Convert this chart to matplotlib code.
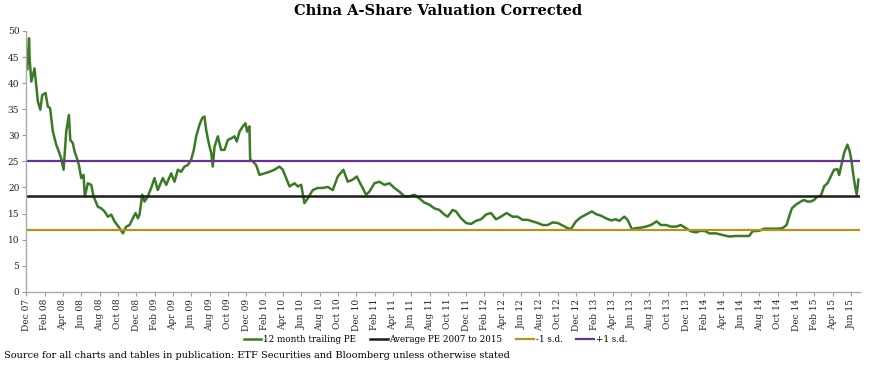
import matplotlib
matplotlib.use("Agg")
import matplotlib.pyplot as plt

# months since Dec 2007 and 12m trailing PE
months = [0.0, 0.1, 0.3, 0.36, 0.55, 0.9, 1.01, 1.26, 1.53, 1.74, 2.1, 2.35, 2.6, 2.9,
          3.27, 3.55, 3.8, 4.07, 4.36, 4.65, 4.8, 5.08, 5.27, 5.52, 5.74, 6.0, 6.25, 6.39,
          6.72, 7.09, 7.34, 7.81, 8.18, 8.54, 8.9, 9.27, 9.63, 10.18, 10.54, 10.9, 11.27,
          11.63, 11.93, 12.18, 12.36, 12.65, 12.9, 13.26, 13.63, 13.99, 14.35, 14.9, 15.27,
          15.81, 16.17, 16.54, 16.9, 17.26, 17.62, 17.99, 18.28, 18.54, 18.9, 19.2, 19.44,
          19.63, 19.91, 20.18, 20.35, 20.54, 20.9, 21.26, 21.63, 21.99, 22.36, 22.72, 22.97,
          23.27, 23.63, 23.92, 24.1, 24.35, 24.43, 24.72, 25.08, 25.45, 25.99, 26.54, 27.08,
          27.63, 27.99, 28.36, 28.72, 29.27, 29.63, 30.0, 30.35, 30.71, 31.26, 31.8, 32.35,
          32.9, 33.44, 33.99, 34.6, 35.08, 35.62, 36.06, 36.53, 37.08, 37.44, 37.99, 38.53,
          39.08, 39.62, 40.17, 40.71, 41.26, 41.8, 42.35, 42.89, 43.44, 43.98, 44.53, 45.07,
          45.62, 45.98, 46.53, 46.89, 47.44, 47.98, 48.53, 49.07, 49.62, 50.16, 50.71, 51.25,
          51.8, 52.41, 53.07, 53.61, 54.16, 54.7, 55.25, 55.8, 56.34, 56.89, 57.43, 57.98,
          58.52, 59.07, 59.43, 59.98, 60.53, 61.07, 61.72, 62.16, 62.7, 63.25, 63.79, 64.34,
          64.7, 65.25, 65.61, 66.09, 66.53, 67.07, 67.62, 68.16, 68.77, 69.25, 69.8, 70.34,
          70.89, 71.43, 71.98, 72.52, 73.07, 73.61, 74.16, 74.51, 75.24, 75.97, 76.7, 77.43,
          78.16, 78.88, 79.25, 79.98, 80.53, 81.25, 81.98, 82.52, 82.96, 83.24, 83.54, 83.97,
          84.52, 84.88, 85.24, 85.6, 85.97, 86.33, 86.7, 87.06, 87.42, 87.79, 88.15, 88.51,
          88.7, 88.99, 89.24, 89.6, 89.86, 90.08, 90.22, 90.44, 90.62, 90.8]
pe = [43.5, 42.6, 48.6, 44.8, 40.3, 42.8, 40.9, 36.5, 34.9, 37.7, 38.1, 35.5, 35.2, 30.7,
      28.2, 26.9, 25.6, 23.4, 30.7, 33.9, 29.1, 28.5, 26.9, 25.6, 24.3, 21.8, 22.4, 18.3,
      20.8, 20.5, 18.3, 16.3, 16.0, 15.4, 14.4, 14.8, 13.5, 12.2, 11.2, 12.5, 12.8,
      14.1, 15.1, 14.1, 14.8, 18.6, 17.3, 18.3, 19.9, 21.8, 19.5, 21.8, 20.5,
      22.7, 21.1, 23.4, 23.0, 24.0, 24.3, 25.3, 27.2, 29.8, 32.0, 33.3, 33.6,
      31.0, 28.5, 26.6, 24.0, 27.8, 29.8, 27.2, 27.2, 29.1, 29.4, 29.8, 28.8,
      30.7, 31.7, 32.3, 30.7, 31.7, 25.3, 25.0, 24.3, 22.4, 22.7, 23.0, 23.4,
      24.0, 23.4, 21.8, 20.2, 20.8, 20.2, 20.5, 17.0, 17.9, 19.5, 19.9, 19.9,
      20.1, 19.5, 22.1, 23.4, 21.1, 21.5, 22.1, 20.5, 18.6, 19.2, 20.8, 21.1,
      20.5, 20.8, 19.9, 19.2, 18.3, 18.3, 18.6, 17.9, 17.1, 16.7, 16.0, 15.7,
      14.8, 14.4, 15.7, 15.4, 14.1, 13.2, 13.0, 13.6, 13.9, 14.8, 15.1, 13.9,
      14.4, 15.1, 14.4, 14.4, 13.8, 13.8, 13.5, 13.2, 12.8, 12.8, 13.3, 13.2,
      12.7, 12.2, 12.0, 13.5, 14.3, 14.8, 15.4, 14.9, 14.6, 14.1, 13.7, 13.9,
      13.6, 14.4, 13.8, 12.0, 12.2, 12.3, 12.5, 12.8, 13.5, 12.8, 12.8, 12.5,
      12.5, 12.8, 12.2, 11.6, 11.4, 11.7, 11.6, 11.2, 11.2, 10.9, 10.6, 10.7,
      10.7, 10.7, 11.6, 11.7, 12.1, 12.1, 12.1, 12.2, 12.8, 14.4, 16.0, 16.7,
      17.3, 17.6, 17.3, 17.3, 17.6, 18.3, 18.4, 20.2, 20.8, 22.1, 23.4, 23.5,
      22.4, 24.7, 26.6, 28.2, 26.9, 24.7, 22.7, 20.2, 18.6, 21.5]

avg_pe = 18.4
minus_sd = 11.8
plus_sd = 25.0

month_names = ["Dec", "Feb", "Apr", "Jun", "Aug", "Oct"]
tick_months = list(range(0, 91, 2))
tick_labels = []
for i, m in enumerate(tick_months):
    year = 7 + (m + 11) // 12
    tick_labels.append("%s %02d" % (month_names[i % 6], year))

SERIF = ["DejaVu Serif"]
GREEN = "#3a7a25"
BLACK = "#1c1c1c"
GOLD = "#b3951d"
PURPLE = "#6c2f95"

fig = plt.figure(figsize=(8.76, 3.68), dpi=100)
ax = fig.add_axes([0.030, 0.207, 0.952, 0.709])

ax.plot(months, pe, color=GREEN, lw=1.8, label="12 month trailing PE")
ax.axhline(avg_pe, color=BLACK, lw=1.8, label="Average PE 2007 to 2015")
ax.axhline(minus_sd, color=GOLD, lw=1.6, label="-1 s.d.")
ax.axhline(plus_sd, color=PURPLE, lw=1.6, label="+1 s.d.")

ax.set_xlim(0, 91)
ax.set_ylim(0, 50)
ax.set_yticks(range(0, 51, 5))
ax.set_xticks(tick_months)
ax.set_xticklabels(tick_labels, rotation=90, fontsize=6.5, family=SERIF)
for lab in ax.get_yticklabels():
    lab.set_family(SERIF)
    lab.set_fontsize(6.5)
ax.tick_params(axis="both", colors="#999999", labelcolor="#222222", length=3, width=0.8, pad=2)
for s in ["top", "right"]:
    ax.spines[s].set_visible(False)
for s in ["left", "bottom"]:
    ax.spines[s].set_color("#aaaaaa")
    ax.spines[s].set_linewidth(1.0)

fig.text(0.5, 0.97, "China A-Share Valuation Corrected", ha="center", va="center",
         fontsize=10.5, fontweight="bold", family=SERIF)

leg = fig.legend(loc="center", bbox_to_anchor=(0.497, 0.077), ncol=4, frameon=False,
                 prop={"family": SERIF, "size": 6.3}, handlelength=2.0, handletextpad=0.2,
                 columnspacing=1.6)

fig.text(0.004, 0.033, "Source for all charts and tables in publication: ETF Securities and "
         "Bloomberg unless otherwise stated", ha="left", va="center", fontsize=7.0, family=SERIF)

fig.savefig("out.png", dpi=100)
